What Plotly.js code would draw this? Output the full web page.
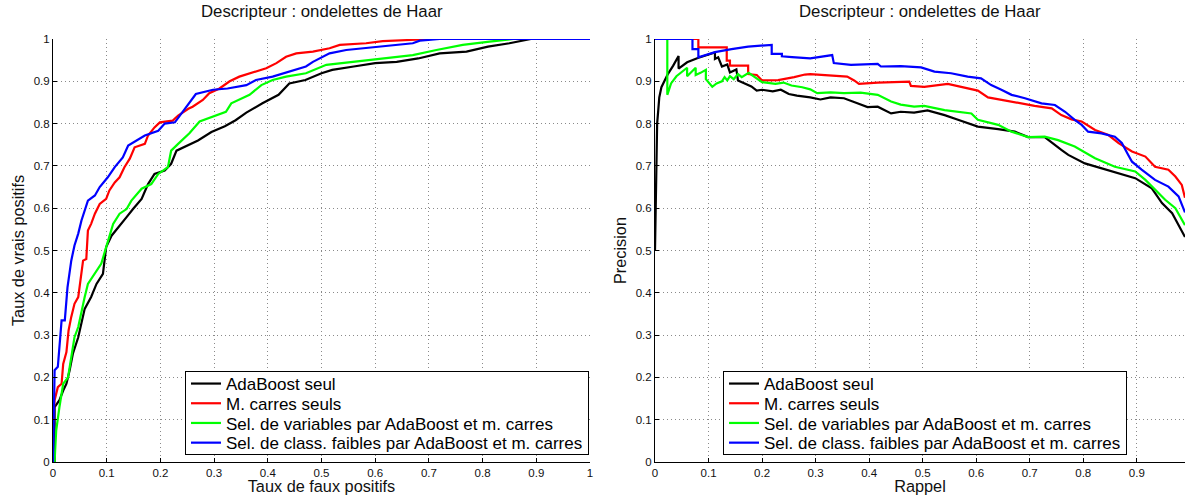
<!DOCTYPE html>
<html>
<head>
<meta charset="utf-8">
<script src="https://cdn.plot.ly/plotly-3.0.1.min.js"></script>
<style>html,body{margin:0;padding:0;background:#fff;}#chart{width:1185px;height:495px;}</style>
</head>
<body>
<div id="chart"></div>
<script>
// ---------- Data: ROC curves (left) ----------
const seriesNames = [
  "AdaBoost seul",
  "M. carres seuls",
  "Sel. de variables par AdaBoost et m. carres",
  "Sel. de class. faibles par AdaBoost et m. carres"
];
const seriesColors = ["#000000", "#ff0000", "#00ff00", "#0000ff"];

const rocAdaFpr = [0, 0.003, 0.003, 0.006, 0.012, 0.019, 0.025, 0.031, 0.037, 0.047, 0.053, 0.059, 0.071, 0.081, 0.093, 0.099, 0.109, 0.121, 0.137, 0.149, 0.165, 0.177, 0.189, 0.208, 0.22, 0.23, 0.245, 0.27, 0.295, 0.32, 0.34, 0.36, 0.39, 0.42, 0.44, 0.47, 0.5, 0.52, 0.56, 0.6, 0.64, 0.68, 0.72, 0.77, 0.81, 0.85, 0.89, 1.0];
const rocAdaTpr = [0, 0, 0.13, 0.135, 0.146, 0.169, 0.185, 0.217, 0.256, 0.295, 0.327, 0.362, 0.39, 0.421, 0.445, 0.508, 0.535, 0.555, 0.579, 0.598, 0.622, 0.657, 0.681, 0.689, 0.705, 0.736, 0.745, 0.76, 0.78, 0.794, 0.808, 0.826, 0.848, 0.868, 0.895, 0.903, 0.919, 0.927, 0.935, 0.943, 0.946, 0.954, 0.966, 0.97, 0.982, 0.99, 1.0, 1.0];

const rocMcFpr = [0, 0, 0.003, 0.009, 0.016, 0.019, 0.025, 0.029, 0.034, 0.04, 0.047, 0.051, 0.056, 0.062, 0.065, 0.071, 0.078, 0.087, 0.099, 0.105, 0.115, 0.124, 0.133, 0.143, 0.152, 0.171, 0.177, 0.189, 0.199, 0.223, 0.233, 0.252, 0.26, 0.279, 0.291, 0.31, 0.329, 0.347, 0.366, 0.397, 0.416, 0.434, 0.453, 0.484, 0.515, 0.534, 0.583, 0.614, 0.707, 1.0];
const rocMcTpr = [0, 0.09, 0.146, 0.177, 0.185, 0.232, 0.26, 0.311, 0.343, 0.374, 0.39, 0.43, 0.476, 0.48, 0.547, 0.563, 0.587, 0.61, 0.622, 0.642, 0.661, 0.673, 0.697, 0.717, 0.744, 0.752, 0.772, 0.791, 0.803, 0.807, 0.819, 0.835, 0.84, 0.856, 0.872, 0.883, 0.9, 0.911, 0.919, 0.931, 0.943, 0.958, 0.966, 0.97, 0.978, 0.986, 0.99, 0.995, 1.0, 1.0];

const rocVarFpr = [0, 0.003, 0.004, 0.006, 0.012, 0.019, 0.028, 0.034, 0.04, 0.047, 0.053, 0.059, 0.065, 0.078, 0.09, 0.099, 0.105, 0.112, 0.124, 0.137, 0.146, 0.165, 0.183, 0.196, 0.214, 0.22, 0.233, 0.254, 0.273, 0.298, 0.322, 0.332, 0.366, 0.388, 0.409, 0.434, 0.471, 0.509, 0.558, 0.608, 0.67, 0.714, 0.763, 0.813, 0.857, 1.0];
const rocVarTpr = [0, 0, 0.028, 0.075, 0.13, 0.185, 0.2, 0.248, 0.295, 0.319, 0.358, 0.39, 0.421, 0.445, 0.469, 0.508, 0.531, 0.563, 0.587, 0.598, 0.618, 0.646, 0.657, 0.681, 0.697, 0.736, 0.752, 0.777, 0.805, 0.817, 0.828, 0.848, 0.868, 0.891, 0.903, 0.911, 0.919, 0.939, 0.946, 0.954, 0.962, 0.974, 0.986, 0.994, 1.0, 1.0];

const rocClsFpr = [0, 0.001, 0.003, 0.009, 0.016, 0.022, 0.027, 0.034, 0.04, 0.047, 0.053, 0.065, 0.078, 0.087, 0.102, 0.115, 0.13, 0.14, 0.155, 0.171, 0.196, 0.208, 0.227, 0.239, 0.252, 0.266, 0.298, 0.325, 0.36, 0.378, 0.409, 0.44, 0.471, 0.484, 0.515, 0.546, 0.608, 0.67, 0.683, 0.72, 1.0];
const rocClsTpr = [0, 0.1, 0.217, 0.225, 0.335, 0.335, 0.413, 0.476, 0.512, 0.54, 0.571, 0.618, 0.63, 0.65, 0.673, 0.697, 0.72, 0.748, 0.76, 0.772, 0.783, 0.8, 0.803, 0.823, 0.846, 0.87, 0.88, 0.883, 0.891, 0.903, 0.911, 0.923, 0.935, 0.946, 0.966, 0.974, 0.982, 0.99, 0.996, 1.0, 1.0];

// ---------- Data: precision / recall curves (right) ----------
const prAdaRec = [0, 0.002, 0.004, 0.006, 0.008, 0.012, 0.024, 0.034, 0.044, 0.044, 0.06, 0.08, 0.1, 0.112, 0.112, 0.118, 0.125, 0.135, 0.14, 0.152, 0.155, 0.168, 0.18, 0.19, 0.2, 0.22, 0.235, 0.25, 0.265, 0.29, 0.309, 0.328, 0.353, 0.378, 0.397, 0.416, 0.441, 0.459, 0.484, 0.509, 0.541, 0.566, 0.603, 0.641, 0.672, 0.697, 0.728, 0.759, 0.772, 0.803, 0.834, 0.866, 0.897, 0.928, 0.947, 0.966, 0.99];
const prAdaPre = [0.5, 0.67, 0.8, 0.83, 0.862, 0.886, 0.917, 0.937, 0.96, 0.93, 0.945, 0.955, 0.962, 0.968, 0.953, 0.957, 0.935, 0.94, 0.921, 0.928, 0.902, 0.894, 0.888, 0.878, 0.88, 0.876, 0.88, 0.87, 0.866, 0.862, 0.857, 0.862, 0.86, 0.848, 0.839, 0.84, 0.824, 0.828, 0.826, 0.831, 0.82, 0.809, 0.793, 0.787, 0.781, 0.768, 0.768, 0.738, 0.726, 0.706, 0.694, 0.683, 0.671, 0.647, 0.612, 0.588, 0.532];

const prMcRec = [0, 0.081, 0.081, 0.134, 0.134, 0.14, 0.14, 0.174, 0.174, 0.19, 0.2, 0.23, 0.26, 0.28, 0.29, 0.328, 0.359, 0.372, 0.381, 0.416, 0.447, 0.475, 0.478, 0.503, 0.547, 0.572, 0.603, 0.622, 0.647, 0.678, 0.709, 0.741, 0.759, 0.778, 0.797, 0.822, 0.847, 0.866, 0.891, 0.916, 0.934, 0.959, 0.972, 0.984, 0.99];
const prMcPre = [1, 1, 0.98, 0.98, 0.949, 0.949, 0.937, 0.937, 0.917, 0.915, 0.902, 0.903, 0.91, 0.916, 0.917, 0.913, 0.911, 0.902, 0.894, 0.897, 0.898, 0.899, 0.889, 0.887, 0.894, 0.887, 0.878, 0.862, 0.856, 0.848, 0.842, 0.836, 0.82, 0.81, 0.805, 0.785, 0.773, 0.754, 0.734, 0.722, 0.698, 0.691, 0.675, 0.655, 0.625];

const prVarRec = [0.023, 0.023, 0.03, 0.04, 0.06, 0.06, 0.076, 0.076, 0.085, 0.095, 0.095, 0.107, 0.115, 0.125, 0.13, 0.135, 0.14, 0.147, 0.155, 0.162, 0.175, 0.2, 0.225, 0.24, 0.255, 0.275, 0.29, 0.303, 0.328, 0.353, 0.384, 0.416, 0.441, 0.459, 0.484, 0.503, 0.541, 0.591, 0.603, 0.641, 0.666, 0.697, 0.728, 0.753, 0.784, 0.822, 0.859, 0.897, 0.916, 0.934, 0.953, 0.972, 0.99];
const prVarPre = [1, 0.868, 0.895, 0.912, 0.932, 0.912, 0.932, 0.915, 0.92, 0.927, 0.905, 0.887, 0.895, 0.9, 0.91, 0.902, 0.912, 0.905, 0.917, 0.91, 0.92, 0.898, 0.894, 0.897, 0.89, 0.886, 0.881, 0.872, 0.874, 0.872, 0.873, 0.868, 0.852, 0.845, 0.84, 0.842, 0.832, 0.824, 0.809, 0.797, 0.781, 0.768, 0.769, 0.761, 0.746, 0.718, 0.698, 0.687, 0.667, 0.643, 0.62, 0.6, 0.56];

const prClsRec = [0, 0.07, 0.07, 0.081, 0.081, 0.112, 0.143, 0.174, 0.218, 0.218, 0.237, 0.237, 0.256, 0.29, 0.331, 0.334, 0.366, 0.416, 0.422, 0.459, 0.497, 0.522, 0.553, 0.584, 0.609, 0.628, 0.647, 0.666, 0.691, 0.722, 0.747, 0.766, 0.784, 0.797, 0.809, 0.834, 0.859, 0.872, 0.884, 0.891, 0.909, 0.934, 0.959, 0.978, 0.99];
const prClsPre = [1, 1, 0.976, 0.976, 0.957, 0.969, 0.976, 0.982, 0.986, 0.965, 0.965, 0.959, 0.957, 0.954, 0.962, 0.943, 0.939, 0.941, 0.935, 0.936, 0.933, 0.923, 0.919, 0.911, 0.907, 0.891, 0.88, 0.868, 0.86, 0.848, 0.844, 0.828, 0.809, 0.797, 0.781, 0.777, 0.769, 0.754, 0.726, 0.71, 0.691, 0.667, 0.651, 0.628, 0.59];

const tickVals = [0, 0.1, 0.2, 0.3, 0.4, 0.5, 0.6, 0.7, 0.8, 0.9, 1];
const tickText = ["0", "0.1", "0.2", "0.3", "0.4", "0.5", "0.6", "0.7", "0.8", "0.9", "1"];
const plotTitle = "Descripteur : ondelettes de Haar";

// ---------- Traces ----------
const rocX = [rocAdaFpr, rocMcFpr, rocVarFpr, rocClsFpr];
const rocY = [rocAdaTpr, rocMcTpr, rocVarTpr, rocClsTpr];
const prX = [prAdaRec, prMcRec, prVarRec, prClsRec];
const prY = [prAdaPre, prMcPre, prVarPre, prClsPre];

const traces = [];
for (let i = 0; i < 4; i++) {
  traces.push({
    x: rocX[i], y: rocY[i], type: "scatter", mode: "lines",
    name: seriesNames[i], line: {color: seriesColors[i], width: 2.2},
    xaxis: "x", yaxis: "y", legend: "legend"
  });
}
for (let i = 0; i < 4; i++) {
  traces.push({
    x: prX[i], y: prY[i], type: "scatter", mode: "lines",
    name: seriesNames[i], line: {color: seriesColors[i], width: 2.2},
    xaxis: "x2", yaxis: "y2", legend: "legend2"
  });
}

const FONT = "Liberation Sans, Arial, Helvetica, sans-serif";
function axisBase(extra) {
  return Object.assign({
    tickvals: tickVals, ticktext: tickText,
    showgrid: true, gridcolor: "#8a8a8a", gridwidth: 1, griddash: "1px,3px",
    zeroline: false, showline: true, linecolor: "#000", linewidth: 1,
    ticks: "inside", ticklen: 4, tickcolor: "#000", tickwidth: 1,
    tickfont: {family: FONT, size: 11.5, color: "#111"},
    fixedrange: true, mirror: false
  }, extra);
}

const legendBase = {
  yanchor: "top", xanchor: "left", y: 0.215,
  bgcolor: "#ffffff", bordercolor: "#000000", borderwidth: 1,
  font: {family: FONT, size: 17, color: "#000"},
  tracegroupgap: 0, itemclick: false, itemdoubleclick: false
};

const layout = {
  width: 1185, height: 495,
  margin: {l: 53, r: 0, t: 39, b: 33, pad: 0},
  paper_bgcolor: "#fff", plot_bgcolor: "#fff",
  font: {family: FONT, color: "#000"},
  hovermode: false,
  xaxis: axisBase({domain: [0, 0.4744], range: [0, 1], anchor: "y",
    title: {text: "Taux de faux positifs", font: {family: FONT, size: 16.3, color: "#111"}, standoff: 0}}),
  yaxis: axisBase({domain: [0, 1], range: [0, 1], anchor: "x",
    title: {text: "Taux de vrais positifs", font: {family: FONT, size: 16.3, color: "#111"}, standoff: 4}}),
  xaxis2: axisBase({domain: [0.5318, 1], range: [0, 0.99], anchor: "y2",
    title: {text: "Rappel", font: {family: FONT, size: 16.3, color: "#111"}, standoff: 0}}),
  yaxis2: axisBase({domain: [0, 1], range: [0, 1], anchor: "x2",
    title: {text: "Precision", font: {family: FONT, size: 16.3, color: "#111"}, standoff: 4}}),
  legend: Object.assign({}, legendBase, {x: 0.1166}),
  legend2: Object.assign({}, legendBase, {x: 0.5919}),
  annotations: [
    {text: plotTitle, xref: "x domain", yref: "paper", x: 0.5, y: 1.064, xanchor: "center", yanchor: "middle",
     showarrow: false, font: {family: FONT, size: 16.8, color: "#111"}},
    {text: plotTitle, xref: "x2 domain", yref: "paper", x: 0.5, y: 1.064, xanchor: "center", yanchor: "middle",
     showarrow: false, font: {family: FONT, size: 16.8, color: "#111"}}
  ]
};

// Tighten legend row spacing to match the compact original (rows ~20px apart)
function tightenLegends(gd) {
  ["legend", "legend2"].forEach(function (cls) {
    const lg = gd.querySelector("g.infolayer g." + cls);
    if (!lg) return;
    const items = lg.querySelectorAll("g.traces");
    const rowGap = 19.7, firstRow = 12.5;
    items.forEach(function (it, i) {
      const tr = it.getAttribute("transform") || "";
      const m = tr.match(/translate\(\s*([-\d.]+)[ ,]+([-\d.]+)\s*\)/);
      const x = m ? parseFloat(m[1]) : 1;
      it.setAttribute("transform", "translate(" + x + "," + (firstRow + i * rowGap) + ")");
    });
    const bg = lg.querySelector("rect.bg");
    if (bg && items.length) {
      bg.setAttribute("height", String(firstRow * 2 + (items.length - 1) * rowGap - 1));
    }
  });
}

Plotly.newPlot("chart", traces, layout, {displayModeBar: false, staticPlot: true}).then(tightenLegends);
</script>
</body>
</html>
